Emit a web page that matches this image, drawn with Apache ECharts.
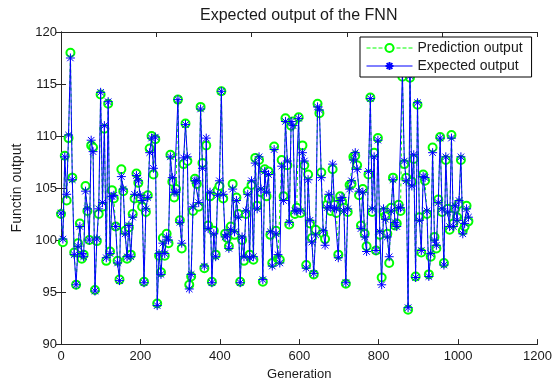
<!DOCTYPE html>
<html>
<head>
<meta charset="utf-8">
<script src="https://cdn.jsdelivr.net/npm/echarts@6/dist/echarts.min.js"></script>
<style>
  html, body { margin: 0; padding: 0; background: #fff; }
  #chart { width: 555px; height: 386px; }
</style>
</head>
<body>
<div id="chart"></div>
<script>
// generations are sampled at a fixed step
const genStep = 4.75;

// expected output (blue stars) left to right
const expected = [
  102.6,100.1,108.0,104.4,110.1,117.5,105.8,98.6,95.7,99.4,101.3,98.7,98.4,104.7,103.0,100.0,109.6,108.5,95.1,100.1,
  103.0,114.2,103.6,111.0,98.3,113.3,98.7,104.2,104.3,101.3,97.8,96.1,106.1,104.9,100.6,98.4,101.4,98.4,102.2,104.4,
  106.2,105.7,104.3,103.8,95.9,103.0,104.1,108.4,109.8,106.9,109.9,93.7,98.7,96.7,99.7,
  98.7,100.3,100.0,108.0,106.0,104.6,104.6,113.5,101.7,99.7,107.9,111.1,108.0,95.3,96.7,103.2,105.7,105.7,103.6,112.6,
  106.9,97.5,109.8,101.1,104.6,95.9,100.6,98.4,104.3,105.7,114.3,104.4,100.3,100.5,99.2,101.0,104.9,100.8,103.8,102.2,
  95.9,100.3,98.4,102.8,104.4,98.3,105.7,98.4,107.4,103.0,108.0,104.9,96.2,106.6,
  104.6,106.3,100.8,97.5,108.7,100.6,98.6,97.8,107.1,103.8,111.4,107.6,101.7,111.4,111.0,102.8,102.8,111.7,102.8,108.4,
  107.6,97.3,105.8,101.9,99.8,96.8,100.5,112.8,112.5,106.0,100.9,99.5,103.1,104.4,103.1,107.3,103.1,103.0,98.3,103.8,
  104.1,102.8,95.9,103.0,104.9,105.7,107.7,108.4,106.8,104.7,101.1,104.6,100.3,98.9,106.6,113.6,103.0,108.0,
  99.0,109.6,100.8,95.7,103.0,102.0,100.3,98.4,102.8,105.8,101.7,101.3,103.1,103.1,116.0,107.6,105.7,93.5,115.8,105.2,
  108.2,96.4,113.2,101.9,99.0,106.1,106.0,102.8,96.5,98.7,108.4,100.0,99.5,103.6,109.8,103.0,97.6,108.0,102.7,101.3,
  109.8,101.3,103.3,101.9,103.8,108.0,100.6,101.6,103.0,102.2
];

// prediction output of the FNN (green circles)
const predicted = [
  102.5,99.8,108.1,103.8,109.8,118.0,106.0,98.8,95.7,99.7,101.6,98.2,98.6,105.2,102.8,100.0,109.1,108.9,95.2,99.9,
  102.5,114.0,103.2,110.7,98.0,113.1,98.9,104.8,104.0,101.3,98.0,96.2,106.8,104.7,100.9,98.2,101.2,98.6,102.5,104.0,
  106.4,105.5,104.0,103.2,96.0,102.7,104.3,108.8,110.0,106.3,109.7,93.9,98.5,96.9,100.2,
  98.5,100.6,99.7,108.2,105.6,104.1,104.9,113.5,101.9,99.2,107.3,111.2,107.6,95.7,96.5,102.8,105.9,105.4,103.2,112.8,
  107.4,97.3,109.1,101.4,104.2,96.0,100.9,98.6,104.8,105.2,114.3,104.0,100.6,100.2,99.4,101.3,105.4,100.5,104.1,102.5,
  96.0,100.0,98.0,102.5,104.7,98.6,105.3,98.1,107.9,103.3,107.7,104.6,96.0,106.8,
  104.2,106.6,100.5,97.8,109.0,100.9,98.2,98.1,107.7,104.2,111.7,107.2,101.5,111.0,111.4,102.5,103.1,111.8,102.6,109.1,
  107.2,97.6,106.3,101.6,100.2,96.7,101.0,113.1,112.2,106.5,100.6,100.1,103.4,104.0,102.8,106.8,103.4,102.6,98.6,104.2,
  103.7,103.1,95.8,102.7,105.3,105.4,108.0,108.1,107.2,104.3,101.4,104.9,100.6,99.4,106.3,113.7,102.7,108.4,
  99.0,109.8,100.5,96.4,102.7,102.3,100.6,97.8,103.1,106.0,101.4,101.6,103.4,102.8,115.7,107.3,106.0,93.3,115.6,105.6,
  107.8,96.5,113.0,102.2,98.8,106.3,105.7,102.5,96.7,98.4,108.9,100.3,99.2,103.9,109.9,102.7,97.8,107.7,103.0,101.0,
  110.1,101.6,103.0,102.2,103.5,107.7,100.9,101.3,103.3,101.8
];

const seriesNames = ['Prediction output', 'Expected output'];

const font = 'Liberation Sans, Arial, Helvetica, sans-serif';
const textColor = '#1a1a1a';
const axisColor = '#262626';
const green = '#00ff00';
const blue = '#0000ff';
const asterisk = 'path://M0,-5L0,5M-5,0L5,0M-3.6,-3.6L3.6,3.6M-3.6,3.6L3.6,-3.6';

const chart = echarts.init(document.getElementById('chart'), null, { renderer: 'canvas' });

const tickInside = { show: true, inside: true, length: 5, lineStyle: { color: axisColor, width: 1 } };

chart.setOption({
  animation: false,
  backgroundColor: '#fff',
  title: {
    text: 'Expected output of the FNN',
    left: 195,
    top: 3,
    textStyle: { fontFamily: font, fontSize: 16, fontWeight: 'normal', color: textColor }
  },
  legend: {
    data: [
      { name: seriesNames[0], lineStyle: { color: green, width: 1, type: 'dashed' }, itemStyle: { color: green, borderColor: green } },
      { name: seriesNames[1], lineStyle: { color: blue, width: 1, type: 'solid' }, itemStyle: { color: 'none', borderColor: blue } }
    ],
    orient: 'vertical',
    left: 360,
    top: 37,
    padding: [4, 9, 4, 6],
    itemWidth: 46,
    itemHeight: 10,
    itemGap: 4,
    backgroundColor: '#fff',
    borderColor: '#000',
    borderWidth: 1,
    borderRadius: 0,
    textStyle: { fontFamily: font, fontSize: 14, color: textColor, lineHeight: 14 }
  },
  grid: { left: 61, right: 14, top: 32, bottom: 37, containLabel: false },
  xAxis: [{
    type: 'value',
    min: 0, max: 1200, interval: 200,
    name: 'Generation',
    nameLocation: 'middle',
    nameGap: 23,
    nameTextStyle: { fontFamily: font, fontSize: 13, color: textColor },
    axisLine: { show: true, lineStyle: { color: axisColor, width: 1 } },
    axisTick: tickInside,
    axisLabel: { fontFamily: font, fontSize: 13, color: textColor, margin: 6, formatter: v => String(v) },
    splitLine: { show: false }
  }, {
    type: 'value',
    position: 'top',
    min: 0, max: 1200, interval: 240,
    axisLine: { show: true, lineStyle: { color: axisColor, width: 1 } },
    axisTick: tickInside,
    axisLabel: { show: false },
    splitLine: { show: false }
  }],
  yAxis: [{
    type: 'value',
    min: 90, max: 120, interval: 5,
    name: 'Functin output',
    nameLocation: 'middle',
    nameGap: 37,
    nameTextStyle: { fontFamily: font, fontSize: 14, color: textColor },
    axisLine: { show: true, lineStyle: { color: axisColor, width: 1 } },
    axisTick: tickInside,
    axisLabel: { fontFamily: font, fontSize: 13, color: textColor, margin: 4 },
    splitLine: { show: false }
  }, {
    type: 'value',
    position: 'right',
    min: 90, max: 120, interval: 5,
    axisLine: { show: true, lineStyle: { color: axisColor, width: 1 } },
    axisTick: tickInside,
    axisLabel: { show: false },
    splitLine: { show: false }
  }],
  series: [{
    name: seriesNames[0],
    type: 'line',
    data: predicted.map((v, i) => [i * genStep, v]),
    symbol: 'emptyCircle',
    symbolSize: 8,
    showAllSymbol: true,
    lineStyle: { color: green, width: 1, type: [3, 3] },
    itemStyle: { color: green, borderColor: green, borderWidth: 1 },
    emphasis: { disabled: true },
    z: 2
  }, {
    name: seriesNames[1],
    type: 'line',
    data: expected.map((v, i) => [i * genStep, v]),
    symbol: asterisk,
    symbolSize: 9,
    showAllSymbol: true,
    lineStyle: { color: blue, width: 1 },
    itemStyle: { color: 'none', borderColor: blue, borderWidth: 1 },
    emphasis: { disabled: true },
    z: 3
  }]
});
</script>
</body>
</html>
